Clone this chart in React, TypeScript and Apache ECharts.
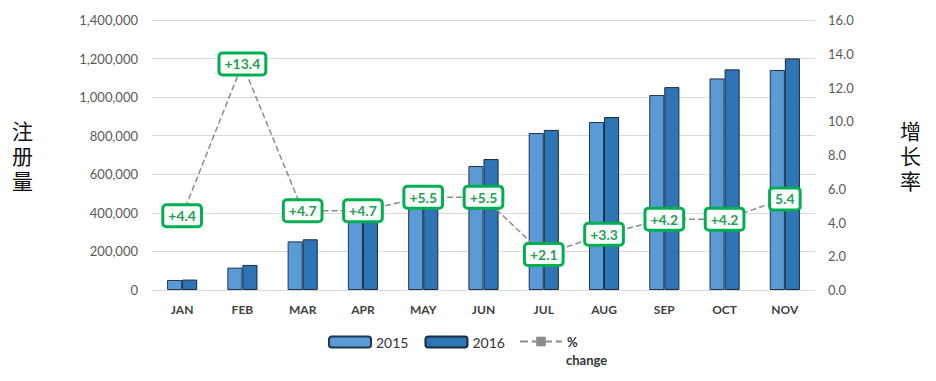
import React, { useEffect, useRef } from "react";
import * as echarts from "echarts";

const months = ["JAN", "FEB", "MAR", "APR", "MAY", "JUN", "JUL", "AUG", "SEP", "OCT", "NOV"];
const values2015 = [52000, 116000, 252000, 400000, 485000, 643000, 814000, 871000, 1011000, 1097000, 1141000];
const values2016 = [54000, 130000, 263000, 410000, 495000, 679000, 830000, 897000, 1052000, 1144000, 1201000];
const pctChange = [4.4, 13.4, 4.7, 4.7, 5.5, 5.5, 2.1, 3.3, 4.2, 4.2, 5.4];
const pctLabels = ["+4.4", "+13.4", "+4.7", "+4.7", "+5.5", "+5.5", "+2.1", "+3.3", "+4.2", "+4.2", "5.4"];
const leftTicks = { min: 0, max: 1400000, interval: 200000 };
const rightTicks = { min: 0, max: 16, interval: 2 };

export default function App() {
  const ref = useRef<HTMLDivElement>(null);
  useEffect(() => {
    if (!ref.current) return;
    const chart = echarts.init(ref.current, undefined, { renderer: "svg" });
    const tickFont = { fontFamily: "Lato, 'Open Sans', sans-serif", fontSize: 13, color: "#595959" };
    const nameStyle = { fontFamily: "'Noto Sans CJK SC'", fontSize: 21, color: "#111", lineHeight: 25, padding: [0, 0, 14, 0] };
    chart.setOption({
      animation: false,
      grid: { left: 152, right: 121, top: 20, bottom: 91 },
      legend: [
        {
          data: ["2015", "2016"],
          left: 323,
          top: 330,
          itemWidth: 42,
          itemHeight: 11,
          itemGap: 16,
          textStyle: { fontFamily: "Lato, 'Open Sans', sans-serif", fontSize: 14, color: "#333" },
        },
        {
          data: ["% change"],
          left: 514,
          top: 330,
          itemWidth: 42,
          itemHeight: 12,
          itemGap: 4,
          formatter: () => "%",
          textStyle: {
            fontFamily: "Lato, 'Open Sans', sans-serif",
            fontSize: 13,
            fontWeight: "bold",
            color: "#333",
          },
        },
      ],
      graphic: [
        {
          type: "text",
          left: 566,
          top: 353,
          style: {
            text: "change",
            fontFamily: "Lato, 'Open Sans', sans-serif",
            fontSize: 13,
            fontWeight: "bold",
            fill: "#333",
          },
        },
      ],
      xAxis: {
        type: "category",
        data: months,
        axisLine: { lineStyle: { color: "#d9d9d9" } },
        axisTick: { show: false },
        axisLabel: {
          fontFamily: "Lato, 'Open Sans', sans-serif",
          fontSize: 12,
          fontWeight: "bold",
          color: "#404040",
          margin: 13,
        },
      },
      yAxis: [
        {
          type: "value",
          ...leftTicks,
          name: "注\n册\n量",
          nameLocation: "middle",
          nameRotate: 0,
          nameGap: 119,
          nameTextStyle: nameStyle,
          axisLine: { show: false },
          axisTick: { show: false },
          splitLine: { lineStyle: { color: "#d9d9d9" } },
          axisLabel: { ...tickFont, margin: 14, formatter: (v: number) => v.toLocaleString("en-US") },
        },
        {
          type: "value",
          ...rightTicks,
          name: "增\n长\n率",
          nameLocation: "middle",
          nameRotate: 0,
          nameGap: 85,
          nameTextStyle: nameStyle,
          axisLine: { show: false },
          axisTick: { show: false },
          splitLine: { show: false },
          axisLabel: { ...tickFont, margin: 13, formatter: (v: number) => v.toFixed(1) },
        },
      ],
      series: [
        {
          name: "2015",
          type: "bar",
          data: values2015,
          barWidth: "25%",
          barGap: "0%",
          itemStyle: { color: "#5b9bd5", borderColor: "#1f3550", borderWidth: 1 },
        },
        {
          name: "2016",
          type: "bar",
          data: values2016,
          barWidth: "25%",
          barGap: "0%",
          itemStyle: { color: "#2e75b6", borderColor: "#1a2a40", borderWidth: 1 },
        },
        {
          name: "% change",
          type: "line",
          yAxisIndex: 1,
          data: pctChange,
          symbol: "rect",
          symbolSize: 10,
          itemStyle: { color: "#8c8c8c" },
          lineStyle: { color: "#8c8c8c", type: "dashed", width: 1.5 },
          z: 5,
          label: {
            show: true,
            position: "inside",
            formatter: (p: any) => pctLabels[p.dataIndex],
            fontFamily: "Lato, 'Open Sans', sans-serif",
            fontSize: 14,
            fontWeight: "bold",
            color: "#22a052",
            backgroundColor: "#fff",
            borderColor: "#00b050",
            borderWidth: 3,
            borderRadius: 2,
            padding: [3, 4, 2, 4],
          },
        },
      ],
    });
    return () => chart.dispose();
  }, []);
  return <div ref={ref} style={{ width: 936, height: 381, marginLeft: -8, marginTop: -8 }} />;
}
